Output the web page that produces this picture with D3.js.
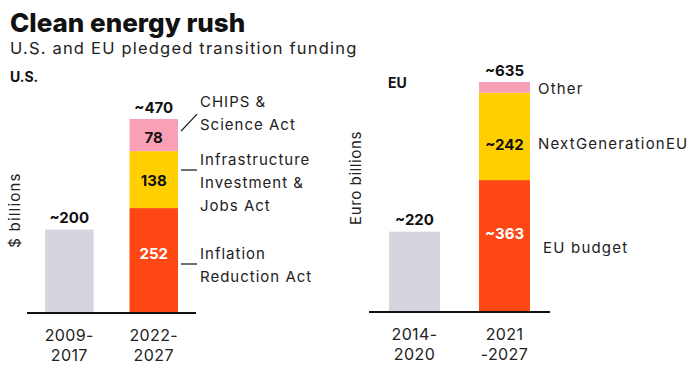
<!DOCTYPE html>
<html>
<head>
<meta charset="utf-8">
<script src="https://cdn.jsdelivr.net/npm/d3@7"></script>
<style>
  body { margin: 0; background: #fff; }
  svg text { font-family: Inter, "Noto Sans", sans-serif; fill: #111; }
</style>
</head>
<body>
<svg id="chart" width="700" height="369"></svg>
<script>
// data
const usPeriods = ['2009-2017', '2022-2027'];
const usPeriodLines = [['2009-', '2017'], ['2022-', '2027']];
const usPast = [200];
const usPastLabel = ['~200'];
const usSeries = ['Inflation Reduction Act', 'Infrastructure Investment & Jobs Act', 'CHIPS & Science Act'];
const usValues = [252, 138, 78];
const usValueLabels = ['252', '138', '78'];
const usTotalLabel = '~470';
const usNoteLines = [['Inflation', 'Reduction Act'], ['Infrastructure', 'Investment &', 'Jobs Act'], ['CHIPS &', 'Science Act']];

const euPeriods = ['2014-2020', '2021-2027'];
const euPeriodLines = [['2014-', '2020'], ['2021', '-2027']];
const euPast = [220];
const euPastLabel = ['~220'];
const euSeries = ['EU budget', 'NextGenerationEU', 'Other'];
const euValues = [363, 242, 30];
const euValueLabels = ['~363', '~242', ''];
const euTotalLabel = '~635';

const colors = ['#ff4713', '#ffcf00', '#f9a0b6'];
const pastColor = '#d5d5dd';

const svg = d3.select('#chart');

svg.append('text').attr('x', 10).attr('y', 32)
  .style('font-size', '26px').style('font-weight', 800)
  .text('Clean energy rush');
svg.append('text').attr('x', 10).attr('y', 54)
  .style('font-size', '16.5px').style('fill', '#222').style('letter-spacing', '1.2px')
  .text('U.S. and EU pledged transition funding');

function panel(conf){
  let g = svg.append('g');
  let x = d3.scaleBand().domain(conf.periods).range(conf.xRange).paddingInner(conf.pad).paddingOuter(0);
  let y = d3.scaleLinear().domain([0, d3.sum(conf.values)]).range(conf.yRange);

  let stacked = d3.stack().keys(conf.series.map((s, i) => i))([conf.values]);
  let bx = x(conf.periods[1]), bw = x.bandwidth();

  // past bar
  g.append('rect')
    .attr('x', x(conf.periods[0])).attr('width', bw)
    .attr('y', y(conf.past[0])).attr('height', y(0) - y(conf.past[0]))
    .attr('fill', pastColor);
  g.append('text')
    .attr('x', x(conf.periods[0]) + bw/2).attr('y', y(conf.past[0]) - 7)
    .attr('text-anchor', 'middle').style('font-size', '15px').style('font-weight', 700)
    .text(conf.pastLabel[0]);

  // stacked bar
  g.selectAll('rect.seg').data(stacked).enter().append('rect')
    .attr('class', 'seg')
    .attr('x', bx).attr('width', bw)
    .attr('y', d => y(d[0][1])).attr('height', d => y(d[0][0]) - y(d[0][1]))
    .attr('fill', (d, i) => colors[i]);

  g.selectAll('text.val').data(stacked).enter().append('text')
    .attr('class', 'val')
    .attr('x', bx + bw/2)
    .attr('y', (d, i) => (y(d[0][0]) + y(d[0][1]))/2 + 6 + conf.valDy[i])
    .attr('text-anchor', 'middle').style('font-size', '15px').style('font-weight', 700)
    .style('fill', (d, i) => i === 0 ? '#fff' : '#111')
    .text((d, i) => conf.valueLabels[i]);

  g.append('text')
    .attr('x', bx + bw/2).attr('y', y(d3.sum(conf.values)) - 6)
    .attr('text-anchor', 'middle').style('font-size', '15px').style('font-weight', 700)
    .text(conf.totalLabel);

  // baseline
  g.append('line')
    .attr('x1', conf.xRange[0] - conf.axisExtra).attr('x2', conf.xRange[1] + conf.axisExtra)
    .attr('y1', y(0) + 1).attr('y2', y(0) + 1)
    .attr('stroke', '#111').attr('stroke-width', 2);

  // period labels
  conf.periods.forEach(function(p, i){
    let t = g.append('text').attr('text-anchor', 'middle').style('font-size', '16px')
      .style('fill', '#222').style('letter-spacing', '0.4px');
    conf.periodLines[i].forEach(function(line, j){
      t.append('tspan').attr('x', x(p) + bw/2).attr('y', y(0) + 29 + j*20).text(line);
    });
  });

  // axis title
  g.append('text')
    .attr('transform', 'translate(' + conf.axisTitle[0] + ',' + conf.axisTitle[1] + ') rotate(-90)')
    .attr('text-anchor', 'middle').style('font-size', '15px').style('fill', '#222')
    .style('letter-spacing', conf.axisSpacing)
    .text(conf.axisLabel);

  g.append('text')
    .attr('x', conf.head[0]).attr('y', conf.head[1])
    .style('font-size', '14px').style('font-weight', 700)
    .text(conf.headLabel);

  return {g: g, x: x, y: y, stacked: stacked, bx: bx, bw: bw};
}

let us = panel({
  periods: usPeriods, periodLines: usPeriodLines, past: usPast, pastLabel: usPastLabel,
  series: usSeries, values: usValues, valueLabels: usValueLabels, totalLabel: usTotalLabel,
  xRange: [45, 178], pad: 0.426, yRange: [312, 119], axisExtra: 18, valDy: [-7, 0, 2],
  axisTitle: [20, 210], axisLabel: '$ billions', axisSpacing: '1.2px', head: [10, 82], headLabel: 'U.S.'
});

let eu = panel({
  periods: euPeriods, periodLines: euPeriodLines, past: euPast, pastLabel: euPastLabel,
  series: euSeries, values: euValues, valueLabels: euValueLabels, totalLabel: euTotalLabel,
  xRange: [389, 530], pad: 0.433, yRange: [311, 82], axisExtra: 20, valDy: [-13, 8, 0],
  axisTitle: [361, 178], axisLabel: 'Euro billions', axisSpacing: '0.6px', head: [388, 88], headLabel: 'EU'
});

// US notes with leader lines
let nx = us.bx + us.bw;
let noteTop = [259, 165, 107];
us.stacked.forEach(function(d, i){
  let my = (us.y(d[0][0]) + us.y(d[0][1]))/2;
  let t = us.g.append('text').style('font-size', '15px').style('fill', '#222').style('letter-spacing', '1px');
  usNoteLines[i].forEach(function(line, j){
    t.append('tspan').attr('x', nx + 22).attr('y', noteTop[i] + j*23).text(line);
  });
  if(i === 2){
    us.g.append('line').attr('x1', nx + 3).attr('x2', nx + 19)
      .attr('y1', my - 4).attr('y2', my - 21).attr('stroke', '#111').attr('stroke-width', 1.2);
  } else {
    us.g.append('line').attr('x1', nx + 3).attr('x2', nx + 19)
      .attr('y1', noteTop[i] + 5).attr('y2', noteTop[i] + 5).attr('stroke', '#111').attr('stroke-width', 1.2);
  }
});

// EU notes
let ex = eu.bx + eu.bw;
let euNoteY = [253, 149, 94];
let euNoteX = [13, 8, 8];
euSeries.forEach(function(s, i){
  eu.g.append('text').attr('x', ex + euNoteX[i]).attr('y', euNoteY[i])
    .style('font-size', '15px').style('fill', '#222').style('letter-spacing', '1.2px').text(s);
});
</script>
</body>
</html>
